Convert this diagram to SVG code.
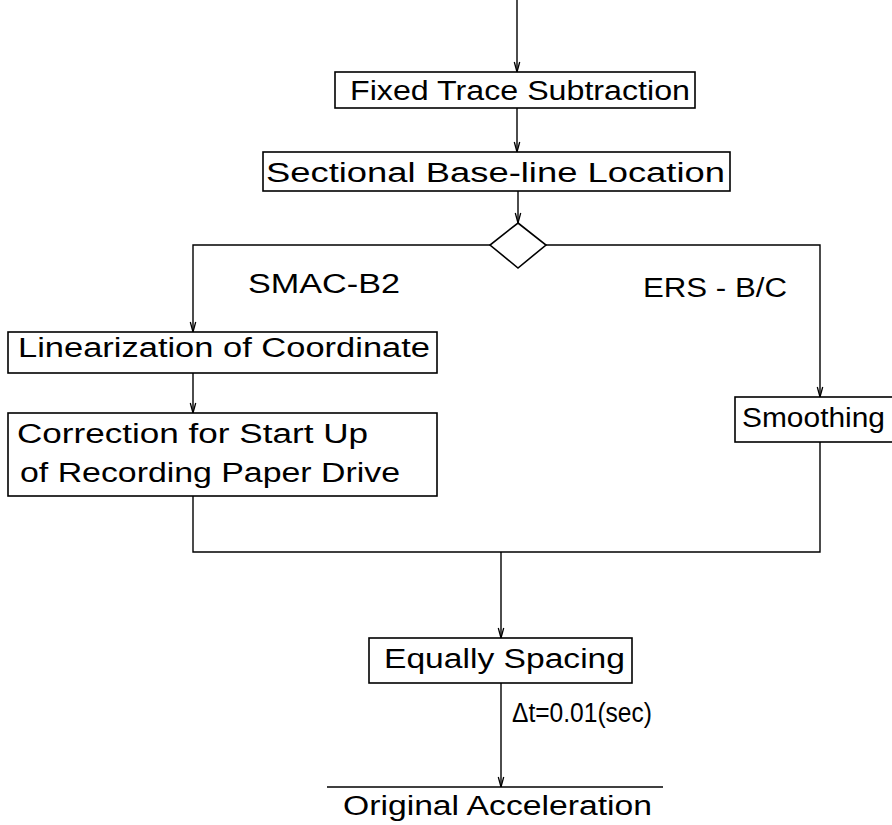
<svg xmlns="http://www.w3.org/2000/svg" width="892" height="825" viewBox="0 0 892 825">
  <style>
    .box { fill: #fff; stroke: #000; stroke-width: 1.6; }
    .wire { fill: none; stroke: #000; stroke-width: 1.4; }
    .arrow { fill: none; stroke: #000; stroke-width: 1.4; marker-end: url(#tip); }
    text { font-family: "Liberation Sans", Arial, sans-serif; font-size: 27px; fill: #000; }
  </style>
  <defs>
    <!-- narrow open tick arrowhead, as drawn with a lettering pen -->
    <marker id="tip" viewBox="0 0 12 10" refX="12" refY="5" markerWidth="12" markerHeight="10" markerUnits="userSpaceOnUse" orient="auto">
      <path d="M2 2.3 L12 5 L2 7.7" fill="none" stroke="#000" stroke-width="1.3"/>
    </marker>
  </defs>

  <!-- connectors -->
  <g id="connectors">
    <line class="arrow" x1="517" y1="0" x2="517" y2="72"/>
    <line class="arrow" x1="517" y1="108" x2="517" y2="152"/>
    <line class="arrow" x1="518" y1="191" x2="518" y2="223"/>
    <!-- branch split from the decision -->
    <polyline class="arrow" points="490,245 193,245 193,332"/>
    <polyline class="arrow" points="546,245 820,245 820,397"/>
    <line class="arrow" x1="193" y1="373" x2="193" y2="413"/>
    <!-- branches merge -->
    <polyline class="wire" points="193,496 193,552 820,552 820,442"/>
    <line class="arrow" x1="501" y1="552" x2="501" y2="638"/>
    <line class="arrow" x1="501" y1="683" x2="501" y2="787"/>
  </g>

  <g id="fixed-trace">
    <rect class="box" x="335" y="72" width="360" height="36"/>
    <text x="350" y="100" textLength="340" lengthAdjust="spacingAndGlyphs">Fixed Trace Subtraction</text>
  </g>

  <g id="baseline-location">
    <rect class="box" x="263" y="152" width="467" height="39"/>
    <text x="266" y="182" textLength="459" lengthAdjust="spacingAndGlyphs">Sectional Base-line Location</text>
  </g>

  <g id="decision">
    <polygon class="box" points="518,223 546,245 518,268 490,245"/>
  </g>

  <g id="label-smac">
    <text x="248" y="293" textLength="152" lengthAdjust="spacingAndGlyphs">SMAC-B2</text>
  </g>

  <g id="label-ers">
    <text x="643" y="297" textLength="144" lengthAdjust="spacingAndGlyphs">ERS - B/C</text>
  </g>

  <g id="linearization">
    <rect class="box" x="8" y="332" width="429" height="41"/>
    <text x="18" y="357" textLength="412" lengthAdjust="spacingAndGlyphs">Linearization of Coordinate</text>
  </g>

  <g id="startup-correction">
    <rect class="box" x="8" y="413" width="429" height="83"/>
    <text x="17" y="443" textLength="351" lengthAdjust="spacingAndGlyphs">Correction for Start Up</text>
    <text x="20" y="482" textLength="380" lengthAdjust="spacingAndGlyphs">of Recording Paper Drive</text>
  </g>

  <g id="smoothing">
    <rect class="box" x="735" y="397" width="170" height="45"/>
    <text x="742" y="427" textLength="143" lengthAdjust="spacingAndGlyphs">Smoothing</text>
  </g>

  <g id="equal-spacing">
    <rect class="box" x="369" y="638" width="263" height="45"/>
    <text x="384" y="668" textLength="241" lengthAdjust="spacingAndGlyphs">Equally Spacing</text>
  </g>

  <g id="label-dt">
    <text x="512" y="722" textLength="140" lengthAdjust="spacingAndGlyphs">Δt=0.01(sec)</text>
  </g>

  <g id="output">
    <line class="wire" x1="327" y1="787" x2="663" y2="787"/>
    <text x="343" y="815" textLength="309" lengthAdjust="spacingAndGlyphs">Original Acceleration</text>
  </g>
</svg>
